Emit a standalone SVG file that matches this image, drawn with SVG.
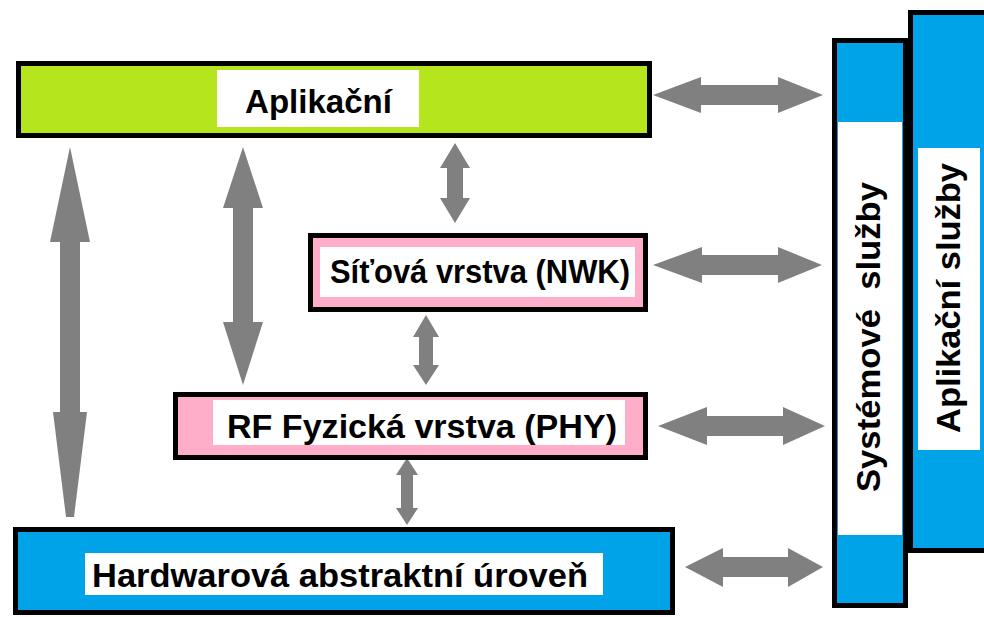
<svg xmlns="http://www.w3.org/2000/svg" width="984" height="617" viewBox="0 0 984 617">
<style>
.box{stroke:#000;stroke-width:5}
.green{fill:#b5e61d}
.pink{fill:#ffaec9}
.blue{fill:#00a2e8}
.lbl{fill:#fff}
.t{font-family:"Liberation Sans",Arial,sans-serif;font-weight:bold;font-size:34px;fill:#000;white-space:pre}
.arr{fill:#808080}
</style>
<rect width="984" height="617" fill="#fff"/>
<g id="connectors">
<polygon class="arr" points="70,147 90,242 80,242 80,412 87,412 74,517 66,517 53,412 60,412 60,242 50,242"/>
<polygon class="arr" points="243,147 263,208 253,208 253,322 263,322 243,385 223,322 233,322 233,208 223,208"/>
<polygon class="arr" points="455,143 470,168 463,168 463,198 470,198 455,223 440,198 447,198 447,168 440,168"/>
<polygon class="arr" points="426,315 439,337 433,337 433,365 439,365 426,385 413,365 419,365 419,337 413,337"/>
<polygon class="arr" points="407,458 418,475 413,475 413,508 418,508 407,525 396,508 401,508 401,475 396,475"/>
<polygon class="arr" points="653,95 701,77 701,85 778,85 778,77 823,95 778,113 778,105 701,105 701,113"/>
<polygon class="arr" points="653,265 702,247 702,255 778,255 778,247 822,265 778,283 778,275 702,275 702,283"/>
<polygon class="arr" points="658,426 707,407 707,416 783,416 783,407 825,426 783,445 783,436 707,436 707,445"/>
<polygon class="arr" points="685,567 723,548 723,557 788,557 788,548 823,567 788,587 788,577 723,577 723,587"/>
</g>
<g id="aplikacni">
<rect class="box green" x="18.5" y="63.5" width="631" height="72"/>
<rect class="lbl" x="217" y="70" width="202" height="57"/>
<text class="t" x="245" y="113" textLength="147" lengthAdjust="spacingAndGlyphs">Aplikační</text>
</g>
<g id="nwk">
<rect class="box pink" x="310.5" y="235.5" width="335" height="74"/>
<rect class="lbl" x="320" y="247" width="315" height="50"/>
<text class="t" x="330" y="283" textLength="300" lengthAdjust="spacingAndGlyphs">Síťová vrstva (NWK)</text>
</g>
<g id="phy">
<rect class="box pink" x="175.5" y="394.5" width="470" height="63"/>
<rect class="lbl" x="213" y="400" width="412" height="45"/>
<text class="t" x="227" y="438" textLength="390" lengthAdjust="spacingAndGlyphs">RF Fyzická vrstva (PHY)</text>
</g>
<g id="hal">
<rect class="box blue" x="15.5" y="529.5" width="657" height="83"/>
<rect class="lbl" x="85" y="553" width="518" height="42"/>
<text class="t" x="92" y="587" textLength="496" lengthAdjust="spacingAndGlyphs">Hardwarová abstraktní úroveň</text>
</g>
<g id="aplikacni-sluzby">
<rect class="box blue" x="910.5" y="12.5" width="90" height="538"/>
<rect class="lbl" x="918" y="148" width="62" height="302"/>
<text class="t" transform="translate(960,433) rotate(-90)" x="0" y="0" textLength="270" lengthAdjust="spacingAndGlyphs">Aplikační služby</text>
</g>
<g id="systemove-sluzby">
<rect class="box blue" x="834.5" y="40.5" width="71" height="565"/>
<rect class="lbl" x="838" y="122" width="64" height="413"/>
<text class="t" transform="translate(880,492) rotate(-90)" x="0" y="0" textLength="310" lengthAdjust="spacingAndGlyphs">Systémové  služby</text>
</g>
</svg>
